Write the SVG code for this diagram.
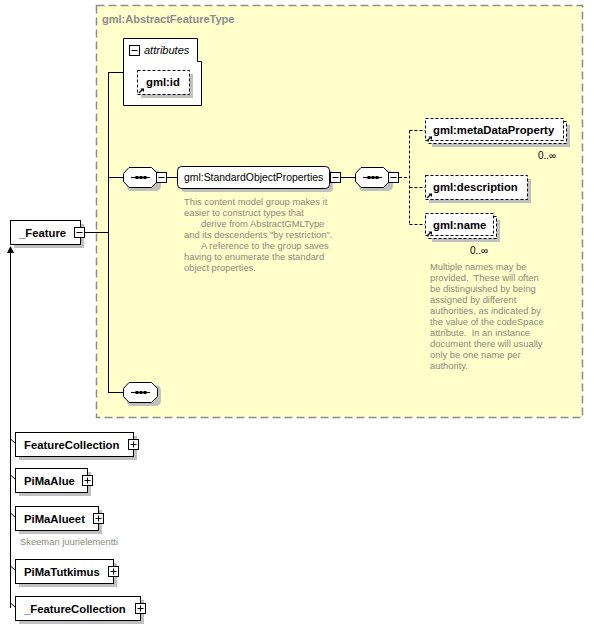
<svg xmlns="http://www.w3.org/2000/svg" width="594" height="630" viewBox="0 0 594 630">
<style>
.el{font-family:"Liberation Sans",Arial,sans-serif;font-size:11.3px;font-weight:bold;fill:#000}
.grp{font-family:"Liberation Sans",Arial,sans-serif;font-size:10.4px;fill:#000}
.desc{font-family:"Liberation Sans",Arial,sans-serif;font-size:9.4px;fill:#8a8a7a;white-space:pre}
.occ{font-family:"Liberation Sans",Arial,sans-serif;font-size:10px;fill:#000}
.title{font-family:"Liberation Sans",Arial,sans-serif;font-size:11px;font-weight:bold;fill:#8c8c8c}
.box{fill:#fff;stroke:#000;stroke-width:1}
.opt{fill:#fff;stroke:#000;stroke-width:1;stroke-dasharray:3,2}
.sh{fill:#c0c0c0}
.ln{stroke:#000;stroke-width:1;fill:none}
.dl{stroke:#000;stroke-width:1;fill:none;stroke-dasharray:3,2}
</style>
<defs>
<g id="ref"><path d="M1,6 L4.5,2.5" stroke="#000" stroke-width="1.2" fill="none"/><path d="M2.5,1.5 L6,1.5 L6,5 Z" fill="#000"/></g>
<g id="minus"><rect x="0.5" y="0.5" width="10" height="10" fill="#fff" stroke="#000"/><path d="M2.5,5.5 H8.5" stroke="#000"/></g>
<g id="plus"><rect x="0.5" y="0.5" width="10" height="10" fill="#fff" stroke="#000"/><path d="M2.5,5.5 H8.5 M5.5,2.5 V8.5" stroke="#000"/></g>
<g id="seq">
<path d="M8,3 L32,3 Q38,3 38,9 L38,18 Q38,24 32,24 L8,24 Q4,24 4,18 L4,9 Q4,3 8,3 Z" fill="#c0c0c0"/>
<path d="M6,0.5 L28.5,0.5 L34.5,6.5 L34.5,14.5 L28.5,20.5 L6,20.5 L0.5,14.5 L0.5,6.5 Z" fill="#fff" stroke="#000" stroke-linejoin="round"/>
<path d="M8,10.5 H27" stroke="#000"/>
<rect x="12.5" y="9" width="3" height="3" fill="#000"/><rect x="16.5" y="9" width="3" height="3" fill="#000"/><rect x="20.5" y="9" width="3" height="3" fill="#000"/>
</g>
</defs>

<g id="AbstractFeatureType">
<rect x="96.5" y="5.5" width="486" height="412" fill="#ffffcc" stroke="#8c8c8c" stroke-width="1.5" stroke-dasharray="8,4"/>
<text class="title" x="102" y="23">gml:AbstractFeatureType</text>
</g>

<g id="connectors">
<path class="ln" d="M85,232.5 H108.5 M108.5,72 V392.5 M108,72.5 H123 M108,177.5 H123 M108,392.5 H123"/>
<path class="ln" d="M167,177.5 H177 M341,177.5 H355"/>
<path class="dl" d="M399,177.5 H409.5 M409.5,130.5 V224.5 M409.5,130.5 H425 M409.5,187.5 H425 M409.5,224.5 H425"/>
<path class="ln" d="M10.5,252 V608"/>
<path d="M10.5,246 L7,253 L14,253 Z" fill="#000"/>
<path class="ln" d="M10.5,439 L15,443 M10.5,475 L15,479 M10.5,513 L15,517 M10.5,566 L15,570 M10.5,603 L15,607"/>
</g>

<g id="attributes">
<path d="M123.5,38.5 H197.5 V61.5 H201.5 V105.5 H123.5 Z" class="box"/>
<use href="#minus" x="129" y="45"/>
<text x="144" y="54" style="font-family:'Liberation Sans',Arial,sans-serif;font-size:11px;font-style:italic;fill:#000">attributes</text>
</g>

<g id="gml_id">
<rect class="sh" x="141" y="74" width="52" height="24"/>
<rect class="opt" x="137.5" y="70.5" width="52" height="24"/>
<use href="#ref" x="138" y="87"/>
<text class="el" x="146" y="86">gml:id</text>
</g>

<g id="Feature">
<rect class="sh" x="14" y="224" width="70" height="24"/>
<rect class="box" x="10.5" y="220.5" width="70" height="24"/>
<text class="el" x="19" y="237">_Feature</text>
<use href="#minus" x="74" y="227"/>
</g>

<g id="sequence1">
<use href="#seq" x="123" y="167"/>
<use href="#minus" x="156" y="172"/>
</g>

<g id="StandardObjectProperties">
<rect class="sh" x="181" y="170" width="152" height="22" rx="4"/>
<rect class="box" x="177.5" y="166.5" width="152" height="22" rx="4"/>
<text class="grp" x="184" y="181">gml:StandardObjectProperties</text>
<use href="#minus" x="330" y="172"/>
<text class="desc" x="184" y="205">This content model group makes it</text>
<text class="desc" x="184" y="216">easier to construct types that</text>
<text class="desc" x="201" y="227">derive from AbstractGMLType</text>
<text class="desc" x="184" y="238">and its descendents "by restriction".</text>
<text class="desc" x="201" y="249">A reference to the group saves</text>
<text class="desc" x="184" y="260">having to enumerate the standard</text>
<text class="desc" x="184" y="271">object properties.</text>
</g>

<g id="sequence2">
<use href="#seq" x="355" y="167"/>
<use href="#minus" x="388" y="172"/>
</g>

<g id="sequence3">
<use href="#seq" x="123" y="382"/>
</g>

<g id="metaDataProperty">
<rect class="sh" x="432" y="125" width="138" height="22"/>
<rect class="opt" x="428.5" y="121.5" width="138" height="22"/>
<rect class="opt" x="425.5" y="118.5" width="138" height="22"/>
<use href="#ref" x="426" y="135"/>
<text class="el" x="433" y="134">gml:metaDataProperty</text>
<text class="occ" x="538" y="159">0..∞</text>
</g>

<g id="description">
<rect class="sh" x="429" y="179" width="102" height="24"/>
<rect class="opt" x="425.5" y="175.5" width="102" height="24"/>
<use href="#ref" x="426" y="192"/>
<text class="el" x="433" y="191">gml:description</text>
</g>

<g id="name">
<rect class="sh" x="432" y="220" width="68" height="22"/>
<rect class="opt" x="428.5" y="216.5" width="68" height="22"/>
<rect class="opt" x="425.5" y="213.5" width="68" height="22"/>
<use href="#ref" x="426" y="230"/>
<text class="el" x="433" y="229">gml:name</text>
<text class="occ" x="470" y="254">0..∞</text>
<text class="desc" x="430" y="270">Multiple names may be</text>
<text class="desc" x="430" y="281" xml:space="preserve">provided.  These will often</text>
<text class="desc" x="430" y="292">be distinguished by being</text>
<text class="desc" x="430" y="303">assigned by different</text>
<text class="desc" x="430" y="314">authorities, as indicated by</text>
<text class="desc" x="430" y="325">the value of the codeSpace</text>
<text class="desc" x="430" y="336" xml:space="preserve">attribute.  In an instance</text>
<text class="desc" x="430" y="347">document there will usually</text>
<text class="desc" x="430" y="358">only be one name per</text>
<text class="desc" x="430" y="369">authority.</text>
</g>

<g id="FeatureCollection">
<rect class="sh" x="19" y="436" width="118" height="24"/>
<rect class="box" x="15.5" y="432.5" width="118" height="24"/>
<text class="el" x="24" y="449">FeatureCollection</text>
<use href="#plus" x="128" y="439"/>
</g>

<g id="PiMaAlue">
<rect class="sh" x="19" y="472" width="72" height="24"/>
<rect class="box" x="15.5" y="468.5" width="72" height="24"/>
<text class="el" x="24" y="485">PiMaAlue</text>
<use href="#plus" x="82" y="475"/>
</g>

<g id="PiMaAlueet">
<rect class="sh" x="19" y="510" width="83" height="24"/>
<rect class="box" x="15.5" y="506.5" width="83" height="24"/>
<text class="el" x="24" y="523">PiMaAlueet</text>
<use href="#plus" x="93" y="513"/>
<text class="desc" x="20" y="545">Skeeman juurielementti</text>
</g>

<g id="PiMaTutkimus">
<rect class="sh" x="19" y="563" width="98" height="24"/>
<rect class="box" x="15.5" y="559.5" width="98" height="24"/>
<text class="el" x="24" y="576">PiMaTutkimus</text>
<use href="#plus" x="108" y="566"/>
</g>

<g id="_FeatureCollection">
<rect class="sh" x="19" y="600" width="125" height="24"/>
<rect class="box" x="15.5" y="596.5" width="125" height="24"/>
<text class="el" x="24" y="613">_FeatureCollection</text>
<use href="#plus" x="135" y="603"/>
</g>
</svg>
